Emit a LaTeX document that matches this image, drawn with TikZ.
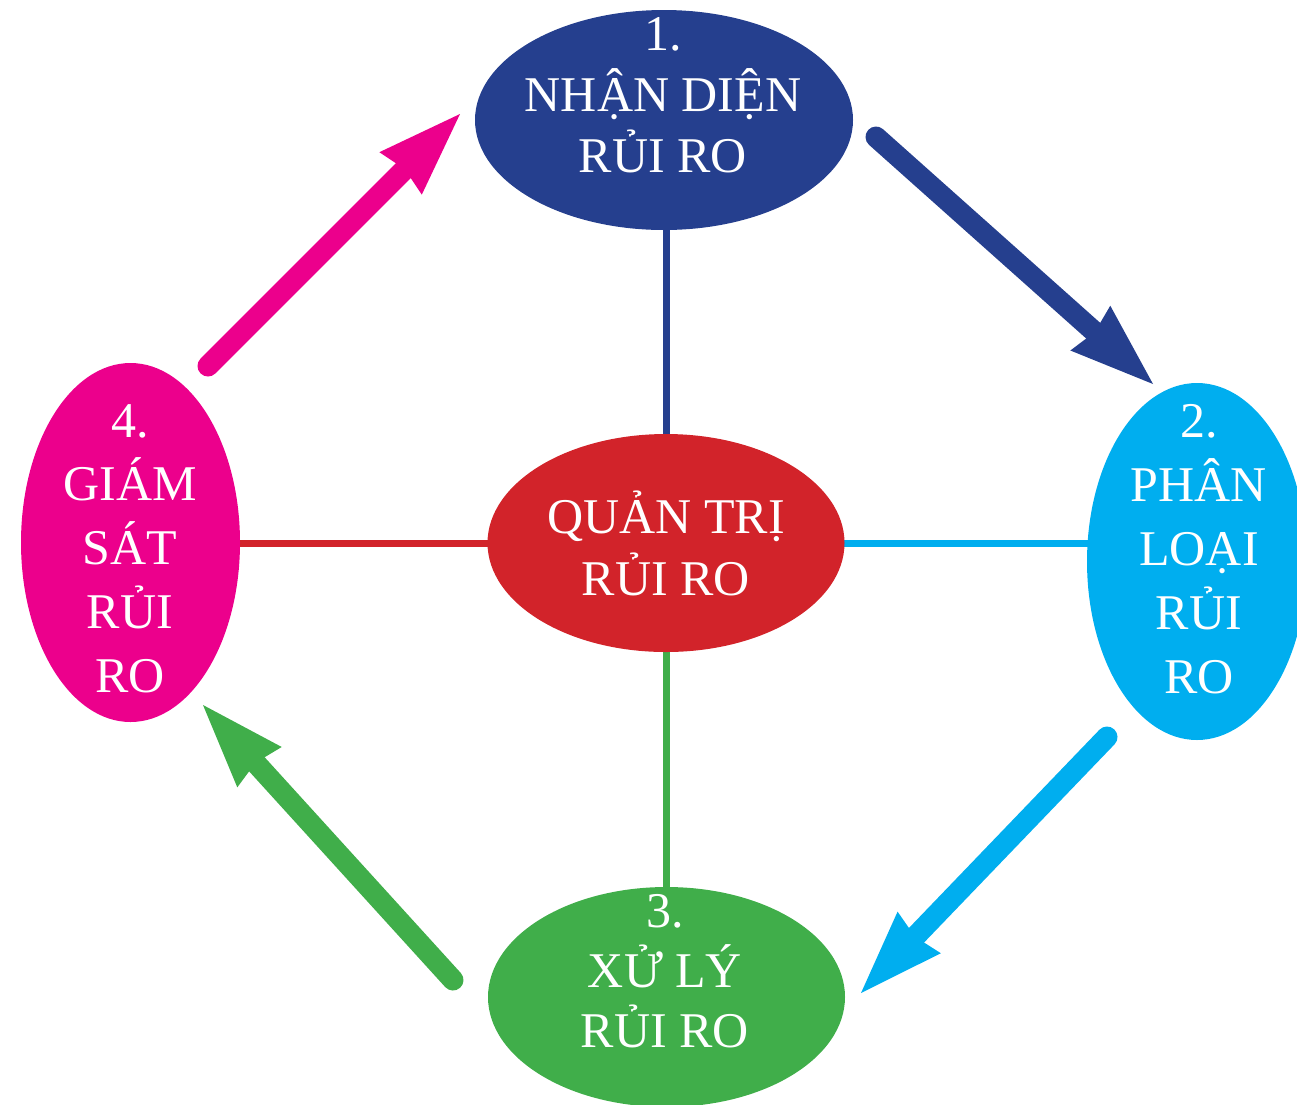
\documentclass[tikz,border=0pt]{standalone}
\usepackage{fontspec}
\setmainfont{Liberation Serif}
\usetikzlibrary{arrows.meta,shapes.geometric,calc,backgrounds}
\definecolor{cblue}{HTML}{253F8E}
\definecolor{ccyan}{HTML}{00AEEF}
\definecolor{cgreen}{HTML}{40AE4A}
\definecolor{cmag}{HTML}{EC008C}
\definecolor{cred}{HTML}{D2232A}
\newcommand\mlines[2]{\vtop{\baselineskip=#1\lineskiplimit=-\maxdimen\lineskip=0pt\halign{\hfil##\hfil\cr#2\crcr}}}
\begin{document}
\begin{tikzpicture}[x=1pt,y=-1pt,
  blob/.style={ellipse,inner sep=0pt,outer sep=0pt,draw=none},
  lbl/.style={text=white,anchor=base,inner sep=0pt,font=\fontsize{50}{60}\selectfont},
  link/.style={line width=7pt},
  bigarrow/.style={line width=21pt,line cap=round,-{Stealth[length=84pt,width=60pt,inset=6pt,line width=0pt]}}]
\useasboundingbox (0,0) rectangle (1297,1104);
\clip (0,0) rectangle (1297,1104);
% ellipses
\node[blob,fill=cred,minimum width=357pt,minimum height=218pt] (n0) at (666,543) {};
\node[blob,fill=cblue,minimum width=378pt,minimum height=220pt] (n1) at (664,120) {};
\node[blob,fill=ccyan,minimum width=220pt,minimum height=357pt] (n2) at (1197,561.5) {};
\node[blob,fill=cgreen,minimum width=357pt,minimum height=220pt] (n3) at (666.5,997) {};
\node[blob,fill=cmag,minimum width=219pt,minimum height=359pt] (n4) at (130.5,542.5) {};
% links to centre
\begin{pgfonlayer}{background}
\draw[link,cblue] (n0.center) -- (n0.center |- n1.center);
\draw[link,ccyan] (n0.center) -- (n0.center -| n2.center);
\draw[link,cgreen] (n0.center) -- (n0.center |- n3.center);
\draw[link,cred] (n0.center) -- (n0.center -| n4.center);
\end{pgfonlayer}
% labels
\node[lbl] (t1) at (663,50) {\mlines{61pt}{1.\cr NHẬN DIỆN\cr RỦI RO}};
\node[lbl] (t0) at (666,533) {\mlines{62pt}{QUẢN TRỊ\cr RỦI RO}};
\node[lbl] (t3) at (665,927) {\mlines{60pt}{3.\cr XỬ LÝ\cr RỦI RO}};
\node[lbl] (t4) at (130,437) {\mlines{63.75pt}{4.\cr GIÁM\cr SÁT\cr RỦI\cr RO}};
\node[lbl] (t2) at (1199,437) {\mlines{64pt}{2.\cr PHÂN\cr LOẠI\cr RỦI\cr RO}};
% flow arrows
\coordinate (a1s) at (876,137);  \coordinate (a1e) at (1153,384);
\coordinate (a2s) at (1107,737); \coordinate (a2e) at (861,993);
\coordinate (a3s) at (453,980);  \coordinate (a3e) at (203,705);
\coordinate (a4s) at (208,366);  \coordinate (a4e) at (460,114);
\draw[bigarrow,cblue] (a1s) -- (a1e);
\draw[bigarrow,ccyan] (a2s) -- (a2e);
\draw[bigarrow,cgreen] (a3s) -- (a3e);
\draw[bigarrow,cmag] (a4s) -- (a4e);
\end{tikzpicture}
\end{document}
